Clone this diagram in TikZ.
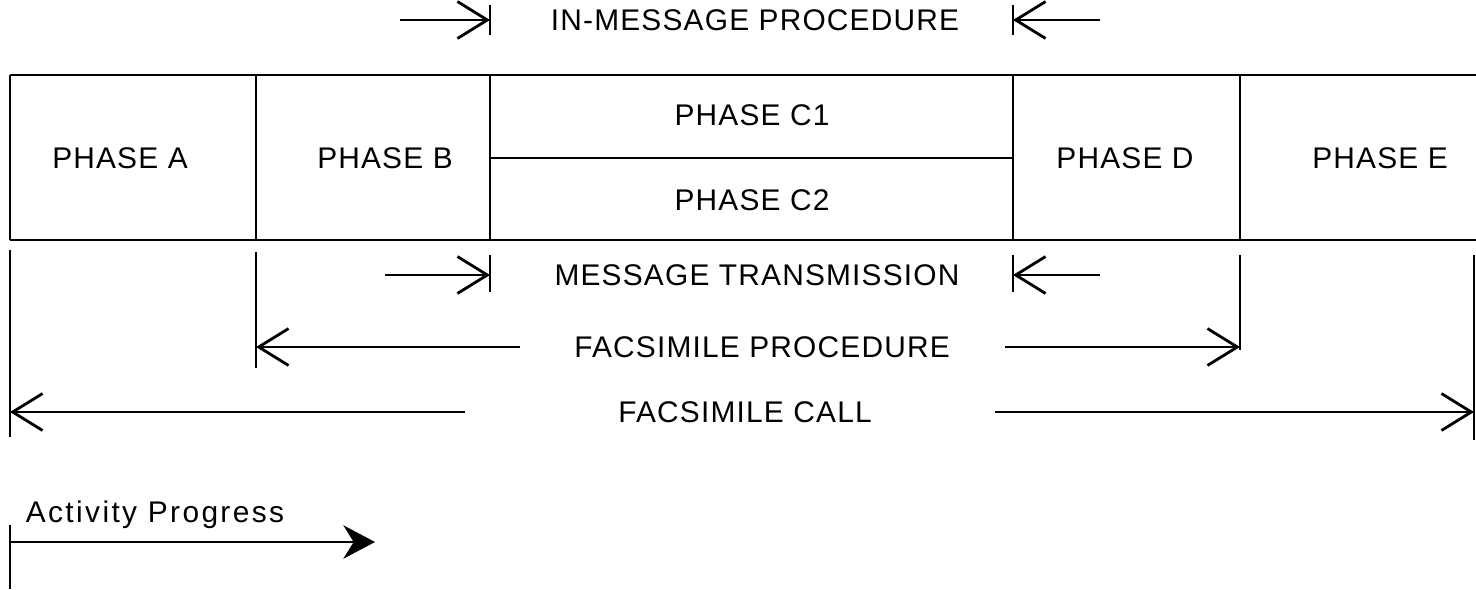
\documentclass[tikz,border=0pt]{standalone}
\usepackage{fontspec}
\setmainfont{Liberation Sans}[LetterSpace=4]
\usetikzlibrary{arrows.meta}
\tikzset{
  lbl/.style={font=\fontsize{17}{20}\selectfont, inner sep=0pt},
  frame/.style={line width=1.4pt},
  tickline/.style={line width=1.6pt},
  barb/.style={-{Straight Barb[length=17pt,width=21pt]}, line width=1.6pt},
}

\begin{document}
\begin{tikzpicture}[x=0.02cm,y=-0.02cm]
    \useasboundingbox (0,0) rectangle (1476,589);

    % phase chart
    \draw [frame] (10,75) -- (1476,75);
    \draw [frame] (10,240) -- (1476,240);
    \foreach \xx in {10,256,490,1013,1240}
      \draw [frame] (\xx,75) -- (\xx,240);
    \draw [frame] (490,158) -- (1013,158);

    \node [lbl] (pa) at (120,158) {PHASE A};
    \node [lbl] (pb) at (385,158) {PHASE B};
    \node [lbl] (pc1) at (752,115) {PHASE C1};
    \node [lbl] (pc2) at (752,200) {PHASE C2};
    \node [lbl] (pd) at (1125,158) {PHASE D};
    \node [lbl] (pe) at (1380,158) {PHASE E};

    % in-message procedure
    \node [lbl] (inmsg) at (755,20) {IN-MESSAGE PROCEDURE};
    \coordinate (imL0) at (400,20);  \coordinate (imL) at (490,20);
    \coordinate (imR0) at (1100,20); \coordinate (imR) at (1013,20);
    \draw [tickline] (490,5) -- (490,35);
    \draw [tickline] (1013,5) -- (1013,35);
    \draw [barb] (imL0) -- (imL);
    \draw [barb] (imR0) -- (imR);

    % message transmission
    \node [lbl] (msgtx) at (757,275) {MESSAGE TRANSMISSION};
    \coordinate (mtL0) at (385,275);  \coordinate (mtL) at (490,275);
    \coordinate (mtR0) at (1100,275); \coordinate (mtR) at (1013,275);
    \draw [tickline] (490,255) -- (490,292);
    \draw [tickline] (1013,255) -- (1013,292);
    \draw [barb] (mtL0) -- (mtL);
    \draw [barb] (mtR0) -- (mtR);

    % facsimile procedure
    \node [lbl] (fproc) at (762,347) {FACSIMILE PROCEDURE};
    \coordinate (fpL0) at (520,347);  \coordinate (fpL) at (256,347);
    \coordinate (fpR0) at (1005,347); \coordinate (fpR) at (1240,347);
    \draw [tickline] (256,252) -- (256,368);
    \draw [tickline] (1240,255) -- (1240,350);
    \draw [barb] (fpL0) -- (fpL);
    \draw [barb] (fpR0) -- (fpR);

    % facsimile call
    \node [lbl] (fcall) at (745,412) {FACSIMILE CALL};
    \coordinate (fcL0) at (465,412);  \coordinate (fcL) at (10,412);
    \coordinate (fcR0) at (995,412);  \coordinate (fcR) at (1474,412);
    \draw [tickline] (10,250) -- (10,437);
    \draw [tickline] (1474,255) -- (1474,440);
    \draw [barb] (fcL0) -- (fcL);
    \draw [barb] (fcR0) -- (fcR);

    % activity progress
    \node [lbl, font=\fontsize{17}{20}\selectfont\addfontfeature{LetterSpace=8}] (prog) at (155,515) {Activity Progress};
    \coordinate (apL) at (10,542); \coordinate (apR) at (375,542);
    \draw [tickline] (10,525) -- (10,589);
    \draw [-{Stealth[length=18pt,width=19pt]}, line width=1.6pt] (apL) -- (apR);
\end{tikzpicture}
\end{document}
